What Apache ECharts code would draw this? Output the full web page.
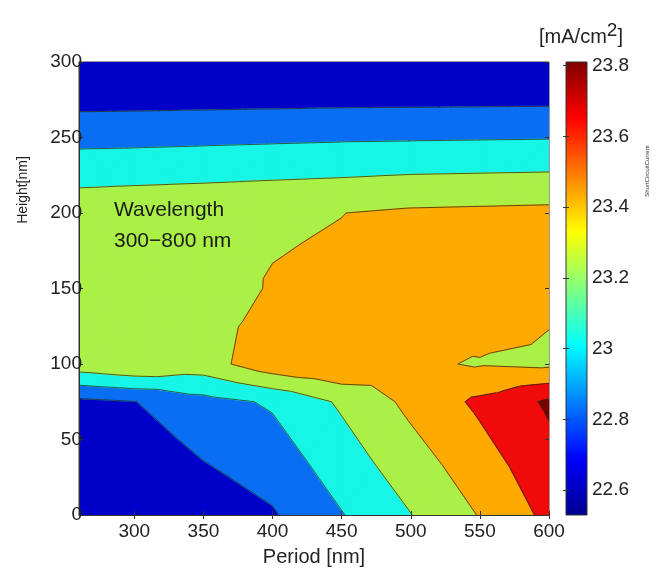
<!DOCTYPE html>
<html>
<head>
<meta charset="utf-8">
<script src="https://cdn.jsdelivr.net/npm/echarts@6/dist/echarts.min.js"></script>
<style>
  html, body { margin: 0; padding: 0; background: #fff; }
  #chart { width: 663px; height: 574px; }
</style>
</head>
<body>
<div id="chart"></div>
<script>
// grid of the simulation
const periods = [260, 300, 350, 400, 450, 500, 550, 600];
const heights = [0, 75, 100, 150, 200, 250, 300];
// short circuit current [mA/cm2], one row per height
const jscRows = [
    [22.54, 22.56, 22.68, 22.78, 22.99, 23.195, 23.41, 23.65],
    [22.75, 22.795, 22.93, 23.025, 23.23, 23.45, 23.64, 23.83],
    [23.32, 23.39, 23.313, 23.53, 23.595, 23.432, 23.385, 23.36],
    [23.33, 23.35, 23.34, 23.41, 23.43, 23.46, 23.556, 23.448],
    [23.33, 23.345, 23.36, 23.38, 23.398, 23.43, 23.44, 23.45],
    [22.94, 22.945, 22.955, 22.965, 22.975, 22.98, 22.985, 22.99],
    [22.53, 22.53, 22.53, 22.53, 22.53, 22.53, 22.53, 22.53]
];
const levels = [22.8, 23.0, 23.2, 23.4, 23.6, 23.8];
const bandColors = ["#0000c8", "#0a6ef5", "#16f5e6", "#aaf046", "#ffaa00", "#f00a0a", "#7a0000"];
const periodTicks = [300, 350, 400, 450, 500, 550, 600];
const barTicks = [22.6, 22.8, 23, 23.2, 23.4, 23.6, 23.8];
const barRange = [22.53, 23.81];

const FONT = "Liberation Sans";

// one item per grid cell
const cells = [];
for (let j = 0; j < heights.length - 1; j++) {
    for (let i = 0; i < periods.length - 1; i++) {
        cells.push([(periods[i] + periods[i + 1]) / 2, (heights[j] + heights[j + 1]) / 2, i, j]);
    }
}

function cellTriangles(i, j) {
    const p00 = [periods[i], heights[j], jscRows[j][i]];
    const p10 = [periods[i + 1], heights[j], jscRows[j][i + 1]];
    const p11 = [periods[i + 1], heights[j + 1], jscRows[j + 1][i + 1]];
    const p01 = [periods[i], heights[j + 1], jscRows[j + 1][i]];
    const c = [
        (p00[0] + p11[0]) / 2,
        (p00[1] + p11[1]) / 2,
        (p00[2] + p10[2] + p11[2] + p01[2]) / 4
    ];
    return [[p00, p10, c], [p10, p11, c], [p11, p01, c], [p01, p00, c]];
}

// keep the part of a polygon where keep(v) is true, cutting at level
function clip(poly, keep, level) {
    const out = [];
    for (let k = 0; k < poly.length; k++) {
        const a = poly[k], b = poly[(k + 1) % poly.length];
        const ina = keep(a[2]), inb = keep(b[2]);
        if (ina) out.push(a);
        if (ina !== inb) {
            const t = (level - a[2]) / (b[2] - a[2]);
            out.push([a[0] + t * (b[0] - a[0]), a[1] + t * (b[1] - a[1]), level]);
        }
    }
    return out;
}

function renderFill(params, api) {
    const tris = cellTriangles(api.value(2), api.value(3));
    const children = [];
    tris.forEach(function (tri) {
        for (let b = 0; b <= levels.length; b++) {
            let poly = tri;
            if (b > 0) {
                const lo = levels[b - 1];
                poly = clip(poly, function (v) { return v >= lo; }, lo);
            }
            if (b < levels.length && poly.length) {
                const hi = levels[b];
                poly = clip(poly, function (v) { return v < hi; }, hi);
            }
            if (poly.length < 3) continue;
            children.push({
                type: "polygon",
                shape: { points: poly.map(function (p) { return api.coord([p[0], p[1]]); }) },
                style: { fill: bandColors[b], stroke: bandColors[b], lineWidth: 1.3, lineJoin: "round" }
            });
        }
    });
    return { type: "group", children: children };
}

function renderLines(params, api) {
    const tris = cellTriangles(api.value(2), api.value(3));
    const children = [];
    tris.forEach(function (tri) {
        levels.forEach(function (L) {
            const pts = [];
            for (let k = 0; k < 3; k++) {
                const a = tri[k], b = tri[(k + 1) % 3];
                if ((a[2] >= L) !== (b[2] >= L)) {
                    const t = (L - a[2]) / (b[2] - a[2]);
                    pts.push(api.coord([a[0] + t * (b[0] - a[0]), a[1] + t * (b[1] - a[1])]));
                }
            }
            if (pts.length === 2) {
                children.push({
                    type: "line",
                    shape: { x1: pts[0][0], y1: pts[0][1], x2: pts[1][0], y2: pts[1][1] },
                    style: { stroke: "#2b2b12", lineWidth: 0.9, opacity: 0.85 }
                });
            }
        });
    });
    return { type: "group", children: children };
}

function renderBar(params, api) {
    const p0 = api.coord([0, barRange[0]]);
    const p1 = api.coord([1, barRange[1]]);
    return {
        type: "rect",
        shape: { x: p0[0], y: p1[1], width: p1[0] - p0[0], height: p0[1] - p1[1] },
        style: {
            fill: {
                type: "linear", x: 0, y: 1, x2: 0, y2: 0,
                colorStops: [
                    { offset: 0, color: "#00008f" },
                    { offset: 0.125, color: "#0000ff" },
                    { offset: 0.375, color: "#00ffff" },
                    { offset: 0.625, color: "#ffff00" },
                    { offset: 0.875, color: "#ff0000" },
                    { offset: 1, color: "#800000" }
                ]
            },
            stroke: "#333",
            lineWidth: 1
        }
    };
}

const chart = echarts.init(document.getElementById("chart"), null, { renderer: "canvas" });

const tickStyle = { color: "#333" };

const option = {
    animation: false,
    backgroundColor: "#fff",
    textStyle: { fontFamily: FONT },
    grid: [
        { left: 79, top: 62, width: 470, height: 453, show: true, borderColor: "#333", borderWidth: 1, backgroundColor: "transparent" },
        { left: 566, top: 62, width: 21, height: 453 }
    ],
    xAxis: [
        {
            gridIndex: 0, type: "value", min: 260, max: 600, z: 10,
            name: "Period [nm]", nameLocation: "middle", nameGap: 32,
            nameTextStyle: { fontSize: 20, color: "#222", fontFamily: FONT },
            axisLine: { show: true, lineStyle: { color: "#333", width: 1 } },
            axisTick: { show: true, inside: true, length: 4, customValues: periodTicks, lineStyle: tickStyle },
            axisLabel: { customValues: periodTicks, fontSize: 19, color: "#222", margin: 7, fontFamily: FONT },
            splitLine: { show: false }
        },
        { gridIndex: 1, type: "value", min: 0, max: 1, show: false },
        {
            gridIndex: 0, type: "value", min: 260, max: 600, position: "top", z: 10,
            axisLine: { show: false },
            axisTick: { show: true, inside: true, length: 4, customValues: periodTicks, lineStyle: tickStyle },
            axisLabel: { show: false },
            splitLine: { show: false }
        }
    ],
    yAxis: [
        {
            gridIndex: 0, type: "value", min: 0, max: 300, interval: 50, z: 10,
            axisLine: { show: true, lineStyle: { color: "#333", width: 1 } },
            axisTick: { show: true, inside: true, length: 4, lineStyle: tickStyle },
            axisLabel: { fontSize: 19, color: "#222", margin: -3, fontFamily: FONT },
            splitLine: { show: false }
        },
        {
            gridIndex: 1, type: "value", min: barRange[0], max: barRange[1], position: "right", z: 10,
            axisLine: { show: false },
            axisTick: { show: true, inside: true, length: 3, customValues: barTicks, lineStyle: tickStyle },
            axisLabel: {
                customValues: barTicks, fontSize: 19, color: "#222", margin: 5, fontFamily: FONT,
                formatter: function (v) { return String(Math.round(v * 10) / 10); }
            },
            splitLine: { show: false }
        },
        {
            gridIndex: 0, type: "value", min: 0, max: 300, interval: 50, position: "right", z: 10,
            axisLine: { show: false },
            axisTick: { show: true, inside: true, length: 4, lineStyle: tickStyle },
            axisLabel: { show: false },
            splitLine: { show: false }
        },
        {
            gridIndex: 1, type: "value", min: barRange[0], max: barRange[1], position: "left", z: 10,
            axisLine: { show: false },
            axisTick: { show: true, inside: true, length: 3, customValues: barTicks, lineStyle: tickStyle },
            axisLabel: { show: false },
            splitLine: { show: false }
        }
    ],
    series: [
        {
            type: "custom", xAxisIndex: 0, yAxisIndex: 0, clip: true, silent: true,
            data: cells, renderItem: renderFill
        },
        {
            type: "custom", xAxisIndex: 0, yAxisIndex: 0, clip: true, silent: true,
            data: cells, renderItem: renderLines
        },
        {
            type: "custom", xAxisIndex: 1, yAxisIndex: 1, silent: true, z: 1,
            data: [[0.5, (barRange[0] + barRange[1]) / 2]], renderItem: renderBar
        }
    ],
    graphic: [
        {
            type: "text", left: 114, top: 200, z: 20,
            style: { text: "Wavelength", fontSize: 21, fill: "#1a1a1a", fontFamily: FONT }
        },
        {
            type: "text", left: 114, top: 231, z: 20,
            style: { text: "300\u2212800 nm", fontSize: 21, fill: "#1a1a1a", fontFamily: FONT }
        },
        {
            type: "text", x: 23, y: 190, rotation: Math.PI / 2,
            style: { text: "Height[nm]", fontSize: 14, fill: "#222", fontFamily: FONT, align: "center", verticalAlign: "middle" }
        },
        {
            type: "text", x: 581, y: 37,
            style: {
                text: "[mA/cm{s|2}]",
                align: "center", verticalAlign: "middle",
                fontSize: 20, fill: "#222", fontFamily: FONT,
                rich: {
                    s: { fontSize: 19, fill: "#222", fontFamily: FONT, padding: [0, 0, 13, 0] }
                }
            }
        },
        {
            type: "text", x: 647, y: 171, rotation: Math.PI / 2,
            style: { text: "ShortCircuitCurrent", fontSize: 6, fill: "#333", fontFamily: FONT, align: "center", verticalAlign: "middle" }
        }
    ]
};

chart.setOption(option);
</script>
</body>
</html>
